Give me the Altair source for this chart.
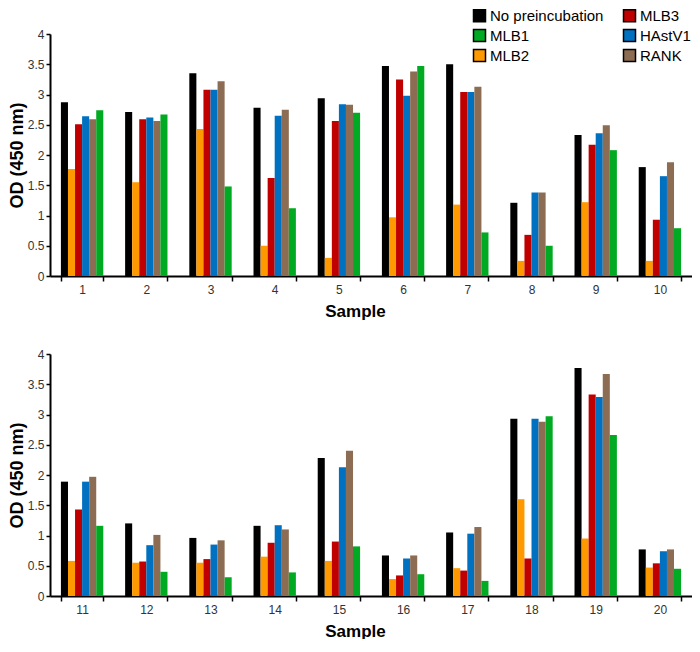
import altair as alt
import pandas as pd

samples = [str(i) for i in range(1, 21)]

treatments_bar_order = ["No preincubation", "MLB2", "MLB3", "HAstV1", "RANK", "MLB1"]
legend_order = ["No preincubation", "MLB1", "MLB2", "MLB3", "HAstV1", "RANK"]
legend_colors = ["#000000", "#00AA22", "#FF9900", "#C00000", "#0070C0", "#8C6C52"]

no_preincubation = [2.87, 2.71, 3.35, 2.78, 2.94, 3.47, 3.50, 1.21, 2.33, 1.80,
                    1.89, 1.20, 0.96, 1.16, 2.28, 0.67, 1.05, 2.93, 3.77, 0.77]
mlb2 = [1.77, 1.55, 2.43, 0.50, 0.30, 0.97, 1.18, 0.25, 1.22, 0.25,
        0.58, 0.55, 0.55, 0.65, 0.58, 0.28, 0.46, 1.60, 0.95, 0.47]
mlb3 = [2.51, 2.59, 3.08, 1.62, 2.56, 3.25, 3.04, 0.68, 2.17, 0.93,
        1.43, 0.57, 0.61, 0.88, 0.90, 0.34, 0.42, 0.62, 3.33, 0.54]
hastv1 = [2.64, 2.62, 3.08, 2.65, 2.84, 2.98, 3.04, 1.38, 2.36, 1.65,
          1.89, 0.84, 0.85, 1.17, 2.13, 0.62, 1.03, 2.93, 3.29, 0.74]
rank = [2.59, 2.56, 3.22, 2.75, 2.83, 3.38, 3.13, 1.38, 2.49, 1.88,
        1.97, 1.01, 0.92, 1.10, 2.40, 0.67, 1.14, 2.88, 3.67, 0.77]
mlb1 = [2.74, 2.67, 1.48, 1.12, 2.70, 3.47, 0.72, 0.50, 2.08, 0.79,
        1.16, 0.40, 0.31, 0.39, 0.82, 0.36, 0.25, 2.97, 2.66, 0.45]

series = {
    "No preincubation": no_preincubation,
    "MLB2": mlb2,
    "MLB3": mlb3,
    "HAstV1": hastv1,
    "RANK": rank,
    "MLB1": mlb1,
}

rows = []
for t, vals in series.items():
    for s, v in zip(samples, vals):
        rows.append({"Sample": s, "Treatment": t, "OD": v})
df = pd.DataFrame(rows)

FONT = "Liberation Sans"
W, H = 642, 242


def panel(sub_samples):
    d = df[df["Sample"].isin(sub_samples)]
    legend = alt.Legend(
        title=None, orient="none", legendX=422, legendY=-26, columns=2,
        padding=0, symbolType="square", symbolSize=144, symbolStrokeColor="#000000",
        symbolStrokeWidth=1.5, labelFontSize=15, labelFont=FONT,
        labelColor="#000000", labelOffset=3, columnPadding=16, rowPadding=1,
    )
    return alt.Chart(d).mark_bar().encode(
        x=alt.X("Sample:N", sort=sub_samples,
                scale=alt.Scale(paddingInner=0.34, paddingOuter=0.17),
                axis=alt.Axis(title="Sample", labelAngle=0, tickBand="extent",
                              titleX=305, titleFontSize=17, titleFontWeight="bold",
                              titlePadding=8, labelPadding=3)),
        xOffset=alt.XOffset("Treatment:N", sort=treatments_bar_order),
        y=alt.Y("OD:Q", scale=alt.Scale(domain=[0, 4], nice=False),
                axis=alt.Axis(title="OD (450 nm)", values=[0, 0.5, 1, 1.5, 2, 2.5, 3, 3.5, 4],
                              format="~g", titleFontSize=18, titleFontWeight="bold",
                              titlePadding=1, labelPadding=2, tickSize=4, grid=False)),
        color=alt.Color("Treatment:N",
                        scale=alt.Scale(domain=legend_order, range=legend_colors),
                        legend=legend),
    ).properties(width=W, height=H)


top = panel(samples[:10])
bottom = panel(samples[10:])

chart = alt.vconcat(top, bottom, spacing=29).properties(
    padding={"left": 0, "top": 0, "right": 0, "bottom": 0}
).configure_view(stroke=None).configure_axis(
    labelFont=FONT, titleFont=FONT, labelFontSize=12, labelColor="#333333",
    titleColor="#000000", domainColor="#000000", domainWidth=2,
    tickColor="#000000", tickWidth=1.5, tickSize=5,
)

chart.save("out.html", embed_options={"renderer": "svg", "actions": False})
